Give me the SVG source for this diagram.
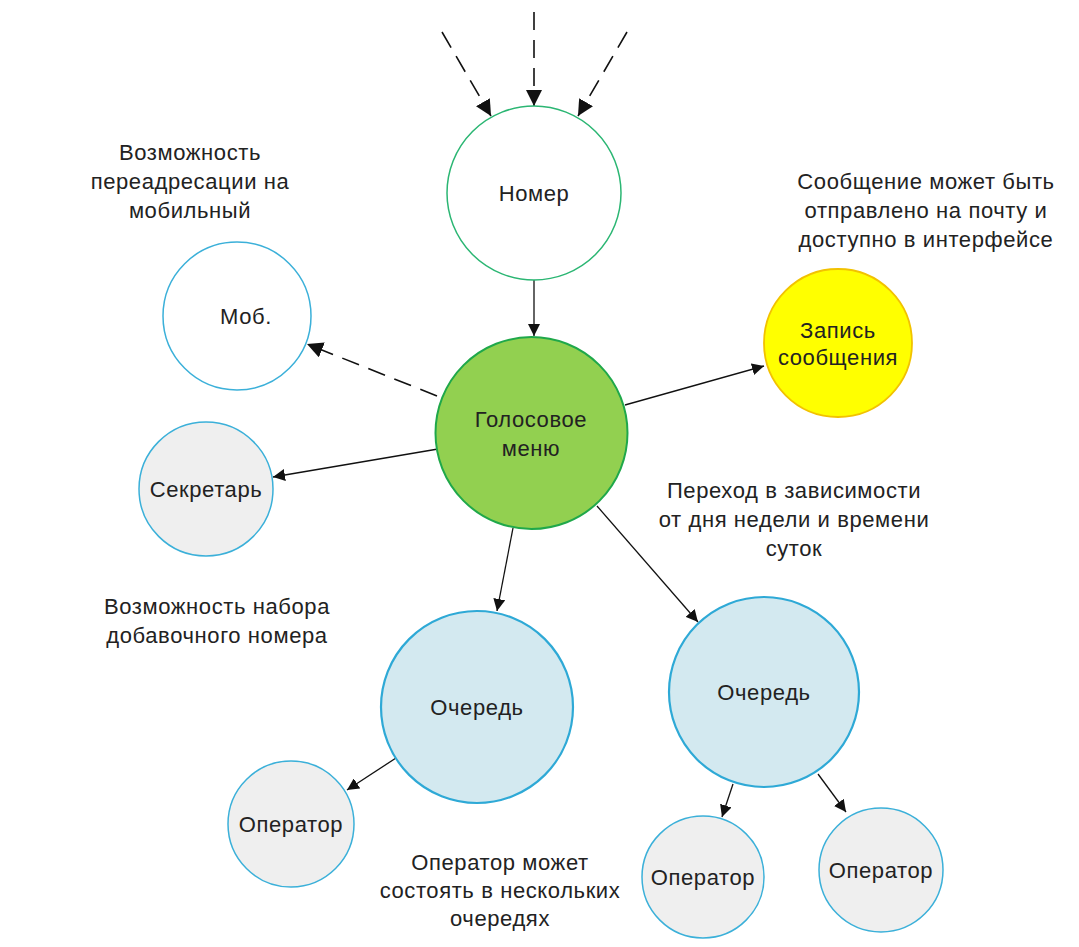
<svg xmlns="http://www.w3.org/2000/svg" width="1079" height="947" viewBox="0 0 1079 947">
<defs>
<marker id="ah" viewBox="0 0 10 10" refX="10" refY="5" markerWidth="12" markerHeight="12" markerUnits="userSpaceOnUse" orient="auto"><path d="M0,0 L10,5 L0,10 Z" fill="#111"/></marker>
<marker id="ahL" viewBox="0 0 10 10" refX="10" refY="5" markerWidth="16" markerHeight="16" markerUnits="userSpaceOnUse" orient="auto"><path d="M0,0 L10,5 L0,10 Z" fill="#111"/></marker>
</defs>
<style>
text{font-family:"Liberation Sans",Arial,sans-serif;font-size:22px;letter-spacing:0.6px;fill:#222;text-anchor:middle;dominant-baseline:central}
.c{stroke:#111;stroke-width:1.3;fill:none;marker-end:url(#ah)}
.d{stroke:#111;stroke-width:1.6;fill:none;stroke-dasharray:18 10;marker-end:url(#ahL)}
.blue{stroke:#3bb0d9;stroke-width:1.5}
</style>
<rect width="1079" height="947" fill="#fff"/>
<g id="connectors">
<line class="d" x1="442" y1="32" x2="491" y2="116"/>
<line class="d" x1="534" y1="12" x2="534" y2="106"/>
<line class="d" x1="627" y1="32" x2="578" y2="116"/>
<line class="c" x1="534" y1="280" x2="534" y2="336"/>
<line class="d" x1="437" y1="396" x2="307" y2="344"/>
<line class="c" x1="438" y1="449" x2="273" y2="477"/>
<line class="c" x1="625" y1="405" x2="764" y2="366"/>
<line class="c" x1="513" y1="528" x2="497" y2="611"/>
<line class="c" x1="597" y1="506" x2="698" y2="622"/>
<line class="c" x1="396" y1="758" x2="347" y2="790"/>
<line class="c" x1="733" y1="784" x2="722" y2="817"/>
<line class="c" x1="818" y1="774" x2="846" y2="812"/>
</g>
<g id="nomer"><circle cx="534" cy="193" r="87" fill="#fff" stroke="#2bb673" stroke-width="1.5"/><text x="534" y="193">Номер</text></g>
<g id="mob"><circle cx="237" cy="316" r="74" fill="#fff" class="blue"/><text x="246" y="316">Моб.</text></g>
<g id="sekretar"><circle cx="206" cy="489" r="67" fill="#efefef" class="blue"/><text x="206" y="489">Секретарь</text></g>
<g id="golos"><circle cx="531.5" cy="433" r="96" fill="#92d050" stroke="#1fa84a" stroke-width="2"/><text x="531" y="419">Голосовое</text><text x="531" y="448">меню</text></g>
<g id="zapis"><circle cx="838" cy="343" r="74" fill="#ffff00" stroke="#f2c200" stroke-width="1.8"/><text x="838" y="330">Запись</text><text x="838" y="357">сообщения</text></g>
<g id="ochered1"><circle cx="477" cy="707" r="96" fill="#d3e9f0" stroke="#2ea9d6" stroke-width="2.2"/><text x="477" y="707">Очередь</text></g>
<g id="ochered2"><circle cx="764" cy="692" r="95" fill="#d3e9f0" stroke="#2ea9d6" stroke-width="2.2"/><text x="764" y="692">Очередь</text></g>
<g id="operator1"><circle cx="291" cy="824" r="63" fill="#efefef" class="blue"/><text x="291" y="824">Оператор</text></g>
<g id="operator2"><circle cx="703" cy="877" r="61" fill="#efefef" class="blue"/><text x="703" y="877">Оператор</text></g>
<g id="operator3"><circle cx="881" cy="870" r="62" fill="#efefef" class="blue"/><text x="881" y="870">Оператор</text></g>
<g id="notes">
<text x="190" y="152">Возможность</text><text x="190" y="181">переадресации на</text><text x="190" y="210">мобильный</text>
<text x="926" y="181">Сообщение может быть</text><text x="926" y="210">отправлено на почту и</text><text x="926" y="239">доступно в интерфейсе</text>
<text x="794" y="490">Переход в зависимости</text><text x="794" y="519">от дня недели и времени</text><text x="794" y="548">суток</text>
<text x="217" y="606">Возможность набора</text><text x="217" y="635">добавочного номера</text>
<text x="500" y="862">Оператор может</text><text x="500" y="890">состоять в нескольких</text><text x="500" y="918">очередях</text>
</g>
</svg>
